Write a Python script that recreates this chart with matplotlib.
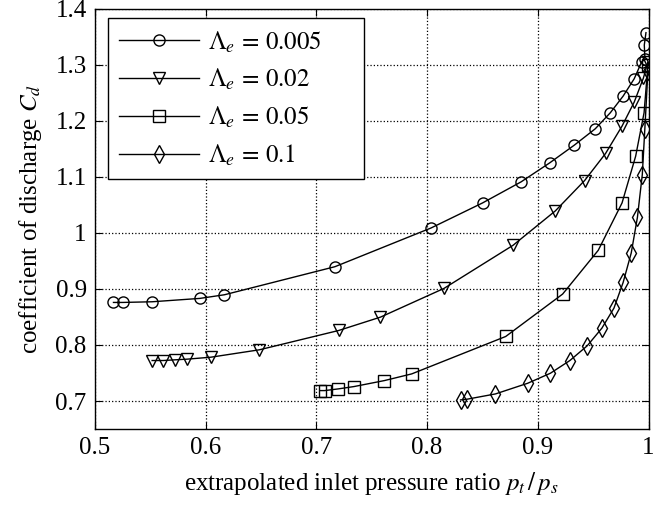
import matplotlib
matplotlib.use("Agg")
import matplotlib.pyplot as plt
import numpy as np

plt.rcParams['font.family'] = ['Liberation Serif', 'DejaVu Serif']
plt.rcParams['mathtext.fontset'] = 'stix'

# extrapolated inlet pressure ratio / coefficient of discharge, one pair per curve
x_005 = [0.5167, 0.525, 0.5516, 0.5947, 0.6169, 0.7167, 0.8036, 0.8501, 0.8849,
         0.9108, 0.933, 0.9519, 0.9655, 0.9771, 0.9871, 0.9939, 0.9968, 0.9962, 0.9977]
cd_005 = [0.876, 0.876, 0.8772, 0.8832, 0.8897, 0.9398, 1.009, 1.0537, 1.0913,
          1.1253, 1.1569, 1.1861, 1.2147, 1.2445, 1.2755, 1.3059, 1.31, 1.3357, 1.3577]

x_02 = [0.5516, 0.5616, 0.5721, 0.5831, 0.6046, 0.6484, 0.7201, 0.7579, 0.8153,
        0.8776, 0.9158, 0.9423, 0.9612, 0.9761, 0.9871, 0.9953, 0.9995]
cd_02 = [0.7723, 0.7723, 0.7735, 0.7747, 0.7782, 0.7914, 0.8259, 0.8498, 0.9011,
         0.978, 1.0394, 1.0937, 1.142, 1.1909, 1.2338, 1.2762, 1.305]

x_05 = [0.7035, 0.7075, 0.7197, 0.734, 0.7615, 0.7861, 0.871, 0.9224, 0.9546,
        0.9761, 0.9884, 0.996, 0.9995]
cd_05 = [0.7186, 0.7186, 0.7216, 0.7258, 0.7365, 0.7484, 0.8152, 0.8909, 0.9691,
         1.0537, 1.1372, 1.2147, 1.30]

x_1 = [0.8302, 0.8358, 0.8617, 0.8909, 0.9114, 0.929, 0.9446, 0.9579, 0.9688,
       0.9771, 0.9844, 0.99, 0.9944, 0.9967, 0.9995]
cd_1 = [0.7019, 0.7031, 0.7126, 0.7317, 0.7496, 0.7723, 0.7985, 0.8301, 0.8659,
        0.9118, 0.9643, 1.0281, 1.1044, 1.1861, 1.29]

labels = [r'$\Lambda_e\,=\,0.005$', r'$\Lambda_e\,=\,0.02$',
          r'$\Lambda_e\,=\,0.05$', r'$\Lambda_e\,=\,0.1$']
markers = ['o', 'v', 's', 'd']
sizes = [8, 8, 8, 9]

xticks = [0.5, 0.6, 0.7, 0.8, 0.9, 1.0]
xticklabels = ['0.5', '0.6', '0.7', '0.8', '0.9', '1']
yticks = [0.7, 0.8, 0.9, 1.0, 1.1, 1.2, 1.3, 1.4]
yticklabels = ['0.7', '0.8', '0.9', '1', '1.1', '1.2', '1.3', '1.4']

fig = plt.figure(figsize=(6.65, 5.05), dpi=100)
ax = fig.add_axes([95 / 665, 1 - 429 / 505, 553.5 / 665, 420 / 505])

series = [(x_005, cd_005), (x_02, cd_02), (x_05, cd_05), (x_1, cd_1)]
for (xs, ys), lab, m, ms in zip(series, labels, markers, sizes):
    ax.plot(xs, ys, color='black', linewidth=1.0, marker=m, markersize=ms,
            markerfacecolor='none', markeredgecolor='black', markeredgewidth=1.0,
            label=lab)

ax.set_xlim(0.5, 1.0)
ax.set_ylim(0.65, 1.4)
ax.set_xticks(xticks)
ax.set_xticklabels(xticklabels)
ax.set_yticks(yticks)
ax.set_yticklabels(yticklabels)
ax.tick_params(direction='in', length=5, width=0.8, top=True, right=True,
               labelsize=18, pad=6, colors='black')
ax.grid(True, linestyle=':', color='black', linewidth=0.9)
for s in ax.spines.values():
    s.set_linewidth(1.0)

ax.set_xlabel(r'extrapolated inlet pressure ratio $p_t\,/\,p_s$', fontsize=18, labelpad=8)
ax.set_ylabel(r'coefficient of discharge $C_d$', fontsize=18, labelpad=8)

leg = ax.legend(loc='upper left', bbox_to_anchor=(13 / 553.5, 0.3, 0.4625, 1 - 9 / 420 - 0.3),
                mode='expand', borderaxespad=0, fontsize=18, handlelength=3.2,
                handletextpad=0.35, labelspacing=0.5, borderpad=0.45,
                fancybox=False, framealpha=1, edgecolor='black')
leg.get_frame().set_linewidth(1.0)

fig.savefig('out.png', dpi=100)
